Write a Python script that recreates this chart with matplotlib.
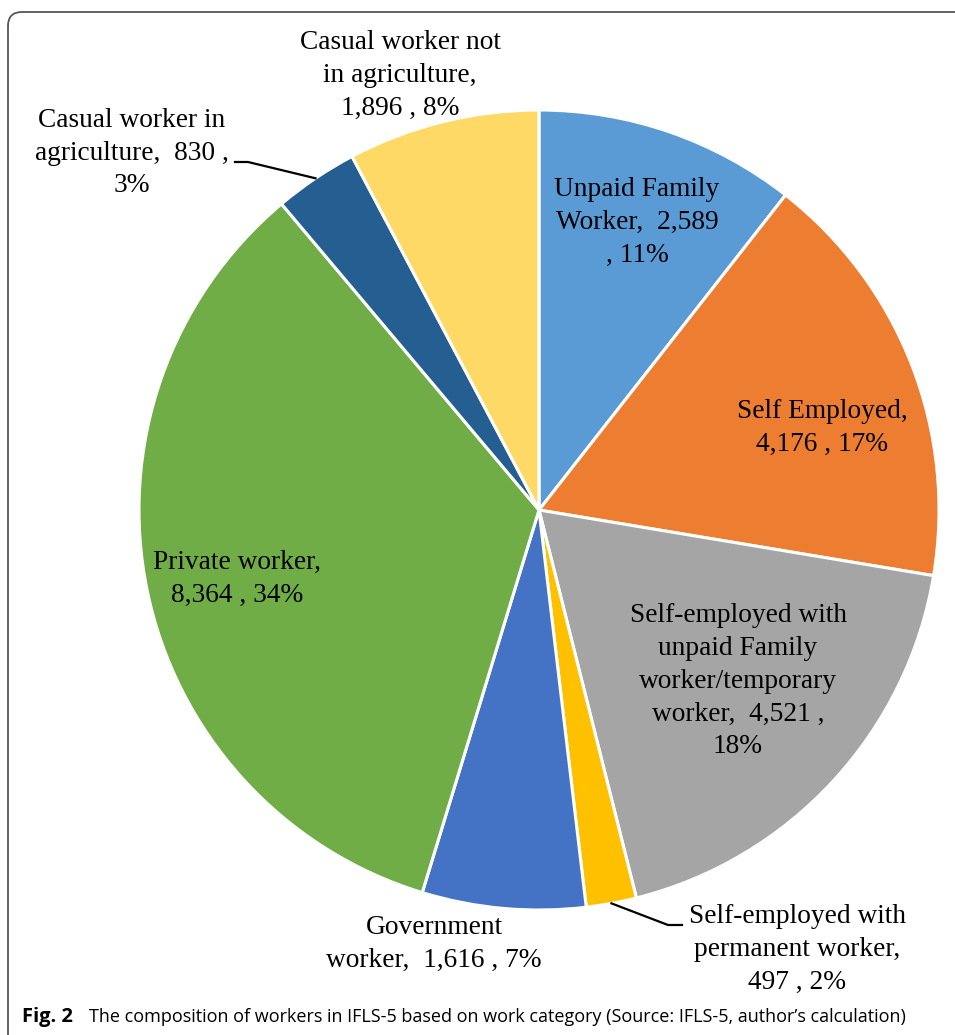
import numpy as np
import matplotlib.pyplot as plt
from matplotlib.patches import FancyBboxPatch

# data, clockwise from 12 o'clock
categories = ["Unpaid Family\nWorker,  2,589\n, 11%",
              "Self Employed,\n4,176 , 17%",
              "Self-employed with\nunpaid Family\nworker/temporary\nworker,  4,521 ,\n18%",
              "Self-employed with\npermanent worker,\n497 , 2%",
              "Government\nworker,  1,616 , 7%",
              "Private worker,\n8,364 , 34%",
              "Casual worker in\nagriculture,  830 ,\n3%",
              "Casual worker not\nin agriculture,\n1,896 , 8%"]
counts = [2589, 4176, 4521, 497, 1616, 8364, 830, 1896]
colors = ["#5B9BD5", "#ED7D31", "#A5A5A5", "#FFC000",
          "#4472C4", "#70AD47", "#255E91", "#FFD966"]

W, H = 955, 1035
fig = plt.figure(figsize=(W/100, H/100), dpi=100)
ax = fig.add_axes([0, 0, 1, 1])

cx, cy, R = 539, 525, 400
wedges, _ = ax.pie(counts, colors=colors, startangle=90, counterclock=False,
                   center=(cx, cy), radius=R, frame=True,
                   wedgeprops=dict(edgecolor="white", linewidth=2.2))
ax.set_xlim(0, W)
ax.set_ylim(0, H)
ax.set_aspect("equal")
ax.axis("off")

# label positions (pixel coords from top)
label_pos = [(637, 222), (822, 428), (738, 681), (797, 949),
             (434, 944), (237, 579), (132, 153), (400, 75)]
serif = "Liberation Serif"
for lab, (x, y) in zip(categories, label_pos):
    ax.text(x, H - y, lab, ha="center", va="center", fontsize=19.7,
            family=serif, linespacing=1.42)

# leader lines for the two small slices
def edge_point(w):
    a = np.deg2rad((w.theta1 + w.theta2) / 2)
    return cx + R*np.cos(a), cy + R*np.sin(a)

px, py = edge_point(wedges[6])
ax.plot([235, 248, px], [H - 162, H - 162, py], color="black", lw=1.6)
px, py = edge_point(wedges[3])
ax.plot([px, 668, 682], [py, H - 925, H - 925], color="black", lw=1.6)

# rounded frame
frame = FancyBboxPatch((8, -40), 1000, H - 12 + 40, boxstyle="round,pad=0,rounding_size=14",
                       fill=False, edgecolor="#555555", lw=1.3, clip_on=False)
ax.add_patch(frame)

# caption
ax.text(22, H - 1017, "Fig. 2", fontsize=14.5, family="Open Sans", weight="bold",
        ha="left", va="center")
ax.text(89, H - 1017, "The composition of workers in IFLS-5 based on work category (Source: IFLS-5, author\u2019s calculation)",
        fontsize=13.0, family="Open Sans", ha="left", va="center")

fig.savefig("out.png", dpi=100)
